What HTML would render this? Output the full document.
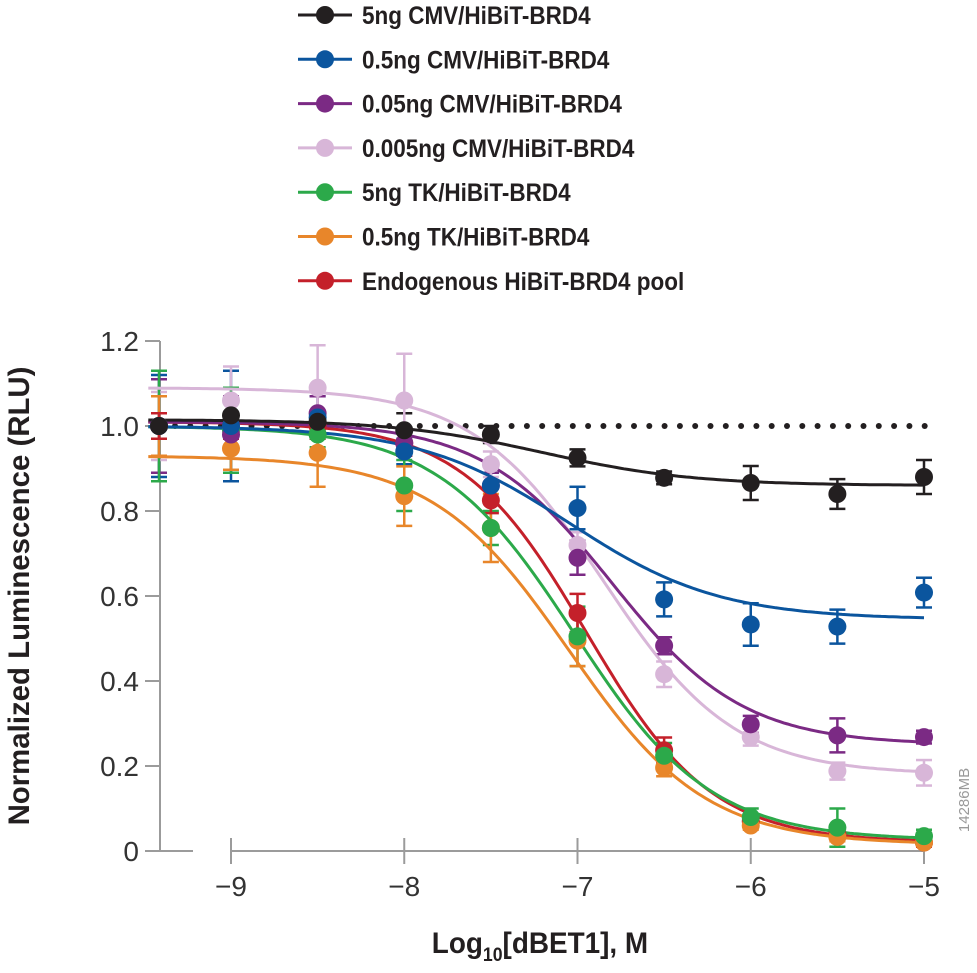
<!DOCTYPE html>
<html><head><meta charset="utf-8"><style>
html,body{margin:0;padding:0;background:#fff;width:977px;height:973px;overflow:hidden}
svg{display:block;font-family:"Liberation Sans",sans-serif}
</style></head><body>
<svg id="s" width="977" height="973" xmlns="http://www.w3.org/2000/svg"></svg>
<script>
const X=v=>231+(v+9)*173.25, Y=v=>851-v*425;
const ser=[
 ["5ng CMV/HiBiT-BRD4","#231f20",[1.015,0.86,-7.2,1.0],[1.0,1.025,1.01,0.99,0.98,0.925,0.878,0.866,0.84,0.88],[0.03,0.03,0.02,0.04,0.02,0.02,0.015,0.04,0.035,0.04]],
 ["0.5ng CMV/HiBiT-BRD4","#0b559e",[1.0,0.545,-7.05,1.0],[1.0,1.0,1.02,0.94,0.86,0.807,0.592,0.533,0.528,0.608],[0.12,0.13,0.05,0.03,0.03,0.05,0.04,0.05,0.04,0.035]],
 ["0.05ng CMV/HiBiT-BRD4","#7b2a84",[1.01,0.25,-6.8,1.15],[1.0,0.98,1.03,0.96,0.86,0.69,0.483,0.298,0.272,0.268],[0.11,0.09,0.04,0.03,0.03,0.04,0.02,0.02,0.04,0.015]],
 ["0.005ng CMV/HiBiT-BRD4","#d8b6d8",[1.09,0.18,-6.85,1.15],[1.0,1.06,1.09,1.06,0.91,0.72,0.416,0.268,0.188,0.184],[0.08,0.08,0.1,0.11,0.03,0.03,0.03,0.02,0.02,0.03]],
 ["5ng TK/HiBiT-BRD4","#2ca94a",[1.0,0.025,-7.02,1.1],[1.0,0.99,0.98,0.86,0.76,0.505,0.224,0.08,0.055,0.035],[0.13,0.1,0.03,0.06,0.04,0.07,0.03,0.02,0.045,0.015]],
 ["0.5ng TK/HiBiT-BRD4","#e8862a",[0.93,0.015,-7.05,1.1],[1.0,0.947,0.937,0.835,0.76,0.495,0.196,0.06,0.033,0.02],[0.07,0.05,0.08,0.07,0.08,0.06,0.02,0.01,0.01,0.01]],
 ["Endogenous HiBiT-BRD4 pool","#c4202a",[1.01,0.02,-6.95,1.2],[1.0,1.0,1.0,0.96,0.825,0.56,0.237,0.07,0.04,0.02],[0.03,0.03,0.03,0.03,0.03,0.045,0.03,0.01,0.01,0.01]]
];
const xs=[-9.5,-9,-8.5,-8,-7.5,-7,-6.5,-6,-5.5,-5];
const px=v=>v==-9.5?159:X(v);
let h='';
const G='#9b9b9b';
h+=`<line x1="160" y1="341" x2="160" y2="851" stroke="${G}" stroke-width="2"/>`;
h+=`<line x1="145" y1="851" x2="193" y2="851" stroke="${G}" stroke-width="2"/>`;
h+=`<line x1="230" y1="851" x2="924" y2="851" stroke="${G}" stroke-width="2"/>`;
[0,0.2,0.4,0.6,0.8,1.0,1.2].forEach(v=>{h+=`<line x1="145" x2="160" y1="${Y(v)}" y2="${Y(v)}" stroke="${G}" stroke-width="2"/>`;
 h+=`<text x="139" y="${Y(v)+10}" font-size="28" text-anchor="end" fill="#333">${v==0?'0':v.toFixed(1)}</text>`;});
[-9,-8,-7,-6,-5].forEach(v=>{h+=`<line x1="${X(v)}" x2="${X(v)}" y1="838" y2="864" stroke="${G}" stroke-width="2"/>`;
 h+=`<text x="${X(v)}" y="896" font-size="28" text-anchor="middle" fill="#333">\u2212${-v}</text>`;});
for(let x=175;x<=925;x+=15.3)h+=`<circle cx="${x}" cy="${Y(1)}" r="3" fill="#231f20"/>`;
ser.forEach(s=>{xs.forEach((v,i)=>{const x=px(v),y=s[3][i],e=s[4][i];
 h+=`<g stroke="${s[1]}" stroke-width="2.5"><line x1="${x}" x2="${x}" y1="${Y(y+e)}" y2="${Y(y-e)}"/><line x1="${x-8}" x2="${x+8}" y1="${Y(y+e)}" y2="${Y(y+e)}"/><line x1="${x-8}" x2="${x+8}" y1="${Y(y-e)}" y2="${Y(y-e)}"/></g>`;});});
ser.slice().reverse().forEach(s=>{const [t,b,c,k]=s[2];let d='';
 for(let i=0;i<=200;i++){const v=-9.5+i*4.5/200;const f=b+(t-b)/(1+Math.pow(10,(v-c)*k));d+=(i?'L':'M')+(i==0?159:X(v)).toFixed(1)+','+Y(f).toFixed(1);}
 h+=`<path d="${d}" fill="none" stroke="${s[1]}" stroke-width="3"/>`;});
ser.slice().reverse().forEach(s=>{xs.forEach((v,i)=>{h+=`<circle cx="${px(v)}" cy="${Y(s[3][i])}" r="9" fill="${s[1]}"/>`;});});
ser.forEach((s,i)=>{const y=15+i*44.3;
 h+=`<line x1="298" x2="352" y1="${y}" y2="${y}" stroke="${s[1]}" stroke-width="3"/><circle cx="325" cy="${y}" r="9" fill="${s[1]}"/>`;
 h+=`<text x="362" y="${y+9}" font-size="25" font-weight="bold" fill="#231f20" transform="translate(362 0) scale(0.9 1) translate(-362 0)">${s[0]}</text>`;});
h+=`<text x="540" y="953" font-size="30" font-weight="bold" text-anchor="middle" fill="#231f20" transform="translate(540 0) scale(0.93 1) translate(-540 0)">Log<tspan font-size="19" dy="8">10</tspan><tspan dy="-8">[dBET1], M</tspan></text>`;
h+=`<text transform="translate(29 596) rotate(-90) scale(0.98 1)" font-size="30" font-weight="bold" text-anchor="middle" fill="#231f20">Normalized Luminescence (RLU)</text>`;
h+=`<text transform="translate(969 800) rotate(-90)" font-size="15" text-anchor="middle" fill="#999">14286MB</text>`;
document.getElementById('s').innerHTML=h;
</script>
</body></html>
